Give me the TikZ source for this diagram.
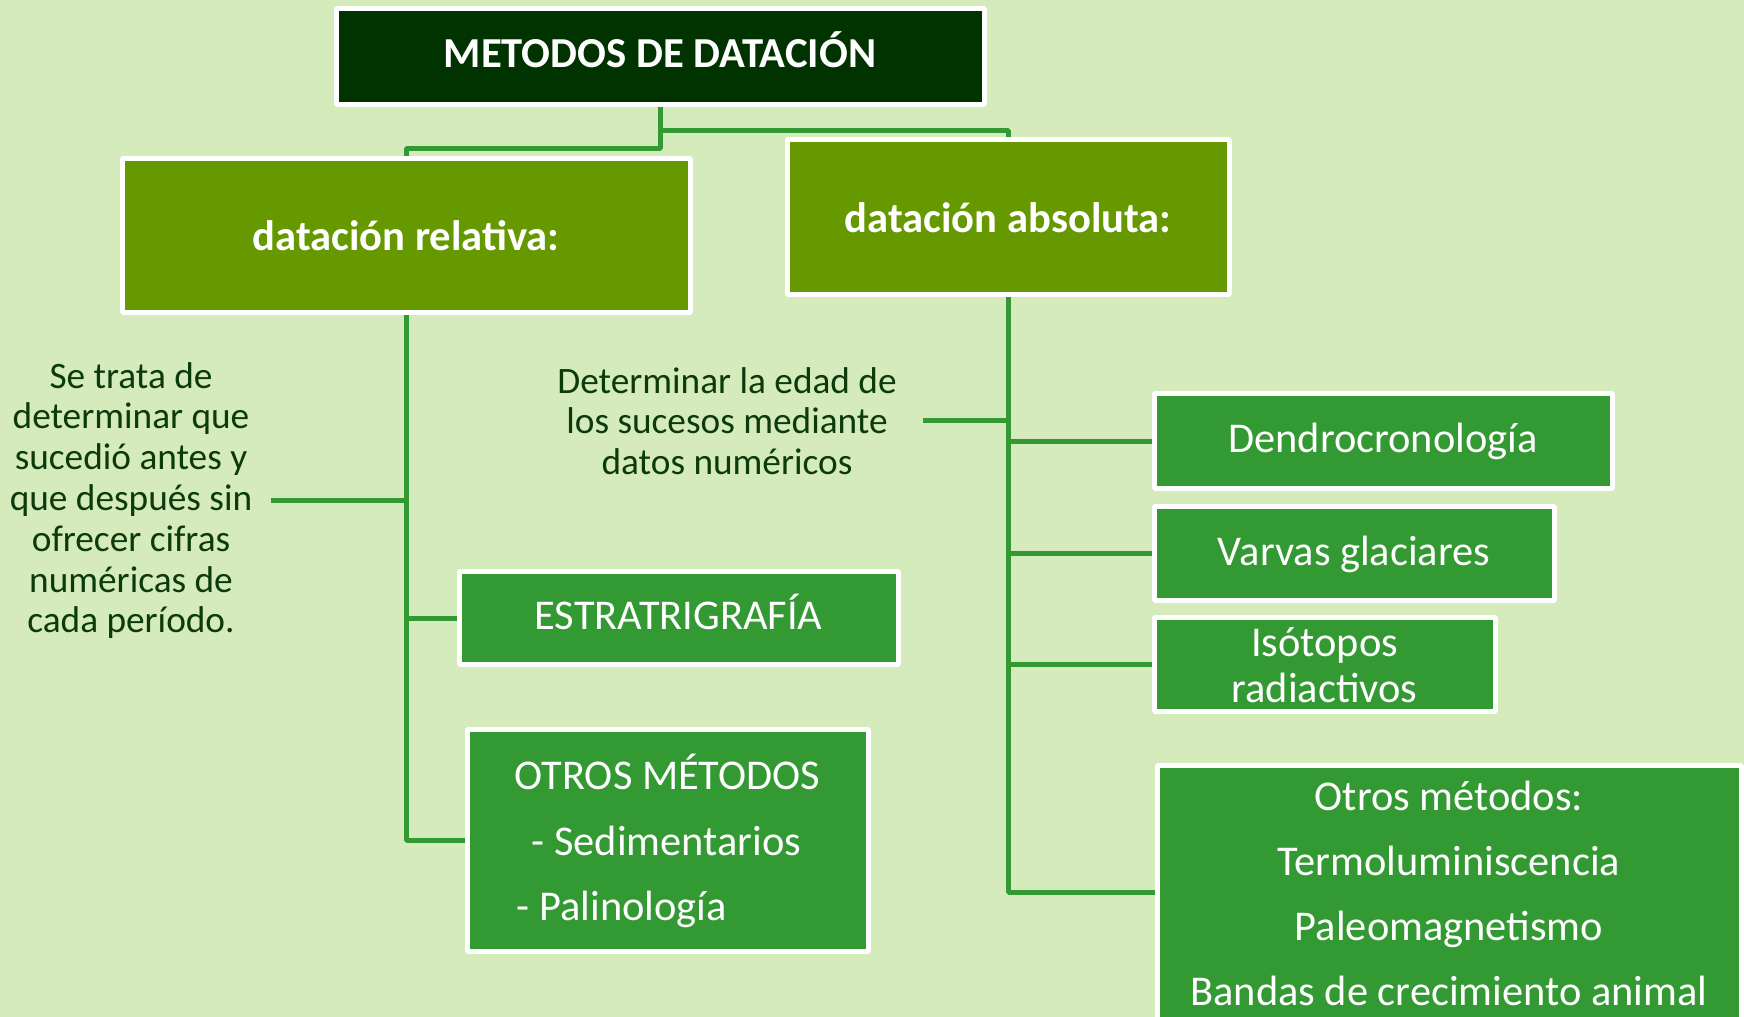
\documentclass[tikz,border=0pt]{standalone}
\usepackage{fontspec}
\setmainfont{Carlito}
\usepackage{tikz}
\usetikzlibrary{arrows.meta}

\definecolor{bgcol}{HTML}{D5EBBC}
\definecolor{topcol}{HTML}{003300}
\definecolor{midcol}{HTML}{669900}
\definecolor{leafcol}{HTML}{339933}
\definecolor{notecol}{HTML}{0B3A0B}

\tikzset{
  box/.style={draw=white, line width=5bp, text=white, align=center, inner sep=0pt},
  topbox/.style={box, fill=topcol, font=\fontsize{42.7bp}{50bp}\selectfont\bfseries},
  midbox/.style={box, fill=midcol, font=\fontsize{42.6bp}{50bp}\selectfont\bfseries},
  leafbox/.style={box, fill=leafcol, font=\fontsize{42.4bp}{46bp}\selectfont},
  note/.style={text=notecol, align=center, inner ysep=0pt, font=\fontsize{37.3bp}{40.8bp}\selectfont},
  link/.style={draw=leafcol, line width=5bp},
}

\begin{document}
\begin{tikzpicture}[line join=bevel]
%%
\fill[bgcol] (0bp,0bp) rectangle (1744bp,1017bp);
\useasboundingbox (0bp,0bp) rectangle (1744bp,1017bp);
\clip (0bp,0bp) rectangle (1744bp,1017bp);
% Node: title
\node[topbox, minimum width=648bp, minimum height=96bp, text height=31bp, text depth=9bp] (title) at (660.0bp,960.0bp) {METODOS DE DATACIÓN};
% Node: rel
\node[midbox, minimum width=568bp, minimum height=154bp] (rel) at (406.0bp,781.0bp) {datación relativa:};
% Node: abs
\node[midbox, minimum width=442bp, minimum height=155bp] (abs) at (1008.0bp,799.5bp) {datación absoluta:};
% Node: relnote
\node[note, inner xsep=19bp] (relnote) at (131.0bp,516.5bp) {Se trata de\\determinar que\\sucedió antes y\\que después sin\\ofrecer cifras\\numéricas de\\cada período.};
% Node: absnote
\node[note, inner xsep=26bp] (absnote) at (727.0bp,596.0bp) {Determinar la edad de\\los sucesos mediante\\datos numéricos};
% Node: estr
\node[leafbox, minimum width=439bp, minimum height=93bp, text height=31bp, text depth=9bp] (estr) at (678.5bp,398.5bp) {ESTRATRIGRAFÍA};
% Node: otrosrel
\node[leafbox, align=left, minimum width=401bp, minimum height=222bp,
  font=\fontsize{42.4bp}{65.5bp}\selectfont] (otrosrel) at (667.5bp,176.0bp)
  {OTROS MÉTODOS\\\hspace*{17bp}- Sedimentarios\\\hspace*{2bp}- Palinología};
% Node: dendro
\node[leafbox, minimum width=458bp, minimum height=95bp] (dendro) at (1383.0bp,575.5bp) {Dendrocronología};
% Node: varvas
\node[leafbox, minimum width=400bp, minimum height=94bp] (varvas) at (1354.0bp,463.0bp) {Varvas glaciares};
% Node: isot
\node[leafbox, minimum width=341bp, minimum height=94bp] (isot) at (1324.5bp,352.0bp) {Isótopos\\radiactivos};
% Node: otrosabs
\node[leafbox, minimum width=584bp, minimum height=254bp,
  font=\fontsize{42.4bp}{65bp}\selectfont] (otrosabs) at (1449.0bp,124.0bp)
  {Otros métodos:\\Termoluminiscencia\\Paleomagnetismo\\Bandas de crecimiento animal};
%
\coordinate (splitrel) at (660.0bp,868.0bp);
\coordinate (splitabs) at (660.0bp,886.0bp);
% Edge: title -> rel
\draw[link] (title.south) -- (splitrel) -| (rel.north);
% Edge: title -> abs
\draw[link] (splitabs) -| (abs.north);
% Edge: rel -> relnote, estr, otrosrel
\draw[link] (rel.south) |- (otrosrel.west);
\draw[link] (relnote.east) -- (relnote.east -| rel.south);
\draw[link] (estr.west) -- (estr.west -| rel.south);
% Edge: abs -> absnote, dendro, varvas, isot, otrosabs
\draw[link] (abs.south) |- (otrosabs.west);
\draw[link] (absnote.east) -- (absnote.east -| abs.south);
\draw[link] (dendro.west) -- (dendro.west -| abs.south);
\draw[link] (varvas.west) -- (varvas.west -| abs.south);
\draw[link] (isot.west) -- (isot.west -| abs.south);
%
\end{tikzpicture}
\end{document}
